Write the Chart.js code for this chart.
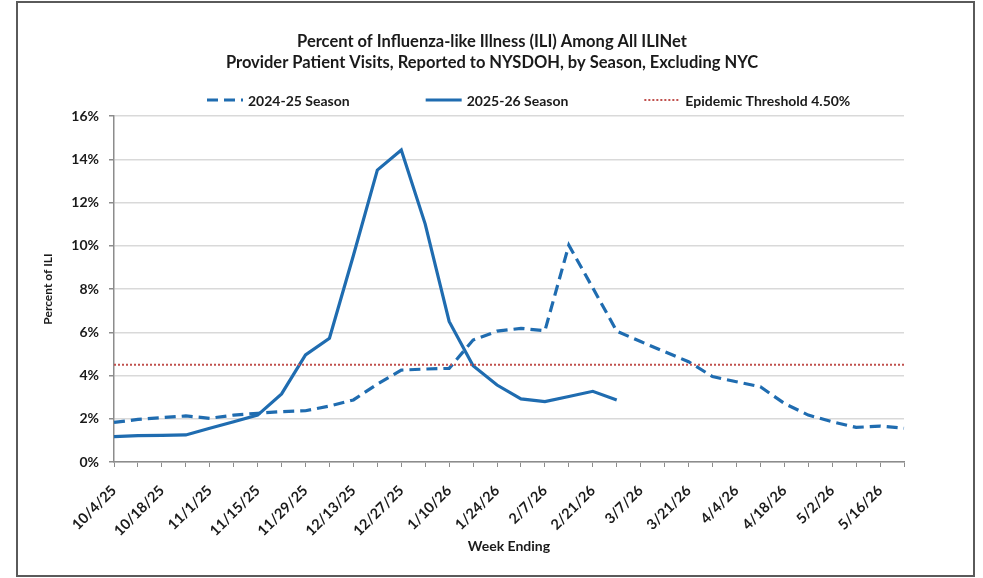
<!DOCTYPE html>
<html>
<head>
<meta charset="utf-8">
<script src="https://cdn.jsdelivr.net/npm/chart.js@4"></script>
<style>
  html, body { margin: 0; padding: 0; background: #fff; }
  #wrap { position: relative; width: 983px; height: 578px; }
  #frame { position: absolute; left: 16px; top: 1px; width: 955px; height: 572px; border: 2px solid #5a5a5a; }
  #chart { position: absolute; left: 0; top: 0; }
</style>
</head>
<body>
<div id="wrap">
  <div id="frame"></div>
  <canvas id="chart" width="983" height="578"></canvas>
</div>
<script>
// week ending dates
const weeks = ['10/4/25', '10/11/25', '10/18/25', '10/25/25', '11/1/25', '11/8/25', '11/15/25', '11/22/25',
  '11/29/25', '12/6/25', '12/13/25', '12/20/25', '12/27/25', '1/3/26', '1/10/26', '1/17/26', '1/24/26',
  '1/31/26', '2/7/26', '2/14/26', '2/21/26', '2/28/26', '3/7/26', '3/14/26', '3/21/26', '3/28/26',
  '4/4/26', '4/11/26', '4/18/26', '4/25/26', '5/2/26', '5/9/26', '5/16/26', '5/23/26'];

const season2425 = [1.83, 1.97, 2.05, 2.13, 2.02, 2.17, 2.25, 2.33, 2.37, 2.59, 2.87, 3.6, 4.25, 4.3, 4.33,
  5.64, 6.05, 6.18, 6.07, 10.03, 8.05, 6.05, 5.57, 5.1, 4.64, 3.95, 3.71, 3.48, 2.71, 2.17, 1.86, 1.6, 1.66, 1.56];

const season2526 = [1.17, 1.22, 1.23, 1.25, 1.56, 1.86, 2.17, 3.15, 4.95, 5.72, 9.55, 13.5, 14.43, 11.0, 6.5,
  4.45, 3.56, 2.92, 2.79, 3.03, 3.27, 2.87];

const threshold = 4.5;
const yTicks = [0, 2, 4, 6, 8, 10, 12, 14, 16];

const titleLines = ['Percent of Influenza-like Illness (ILI) Among All ILINet',
  'Provider Patient Visits, Reported to NYSDOH, by Season, Excluding NYC'];

const blue = '#1f6cb0';
const red = '#c0504d';
const ink = '#1a1a1a';
const FONT = 'Lato, "Liberation Sans", sans-serif';

// title + legend drawn by hand so the spacing matches the original
const headerPlugin = {
  id: 'header',
  afterDraw(chart) {
    const c = chart.ctx;
    c.save();
    c.fillStyle = ink;
    c.textBaseline = 'middle';

    c.font = 'bold 16.5px ' + FONT;
    c.textAlign = 'center';
    c.fillText(titleLines[0], 492, 42);
    c.fillText(titleLines[1], 492, 63);

    const items = chart.data.datasets.slice().sort((a, b) => a.legendIndex - b.legendIndex);
    c.font = 'bold 14px ' + FONT;
    c.textAlign = 'left';
    let x = 207;
    const y = 100;
    items.forEach(ds => {
      c.beginPath();
      c.strokeStyle = ds.borderColor;
      c.lineWidth = ds.borderWidth;
      c.setLineDash(ds.borderDash || []);
      c.moveTo(x, y);
      c.lineTo(x + 36, y);
      c.stroke();
      c.setLineDash([]);
      c.fillText(ds.label, x + 41, y + 1);
      x += 41 + c.measureText(ds.label).width + 76;
    });
    c.restore();
  }
};

new Chart(document.getElementById('chart'), {
  type: 'line',
  data: {
    labels: weeks,
    datasets: [
      {
        label: 'Epidemic Threshold 4.50%',
        data: weeks.map(() => threshold),
        borderColor: red,
        borderWidth: 2,
        borderDash: [2, 2],
        pointRadius: 0,
        order: 0,
        legendIndex: 2
      },
      {
        label: '2025-26 Season',
        data: season2526,
        borderColor: blue,
        borderWidth: 3.2,
        pointRadius: 0,
        tension: 0,
        order: 1,
        legendIndex: 1
      },
      {
        label: '2024-25 Season',
        data: season2425,
        borderColor: blue,
        borderWidth: 3.2,
        borderDash: [11, 6],
        pointRadius: 0,
        tension: 0,
        order: 2,
        legendIndex: 0
      }
    ]
  },
  options: {
    responsive: false,
    animation: false,
    devicePixelRatio: 1,
    layout: { padding: { left: 20, right: 79, top: 116, bottom: 10 } },
    plugins: {
      legend: { display: false },
      tooltip: { enabled: false },
      title: { display: false }
    },
    scales: {
      x: {
        offset: false,
        grid: { display: true, drawOnChartArea: false, tickLength: 5, tickColor: '#8c8c8c' },
        border: { color: '#8c8c8c', width: 1.5 },
        ticks: {
          autoSkip: false,
          maxRotation: 45,
          minRotation: 45,
          padding: 15,
          color: ink,
          font: { family: FONT, size: 14.5, weight: 'bold' },
          callback: (v, i) => (i % 2 === 0 ? weeks[i] : '')
        },
        title: {
          display: true,
          text: 'Week Ending',
          color: ink,
          font: { family: FONT, size: 14, weight: 'bold', lineHeight: 1.2 },
          padding: { top: 4, bottom: 13 }
        },
        afterFit: s => { s.height = 106; }
      },
      y: {
        min: 0,
        max: 16,
        afterBuildTicks: s => { s.ticks = yTicks.map(v => ({ value: v })); },
        grid: { color: '#d9d9d9', lineWidth: 1.5, tickLength: 5, tickColor: '#8c8c8c' },
        border: { color: '#8c8c8c', width: 1.5 },
        ticks: {
          padding: 10,
          color: ink,
          font: { family: FONT, size: 14, weight: 'bold' },
          callback: v => v + '%'
        },
        title: {
          display: true,
          text: 'Percent of ILI',
          color: ink,
          font: { family: FONT, size: 12, weight: 'bold', lineHeight: 1.2 },
          padding: { top: 21, bottom: 0 }
        },
        afterFit: s => { s.width = 94; }
      }
    }
  },
  plugins: [headerPlugin]
});
</script>
</body>
</html>
